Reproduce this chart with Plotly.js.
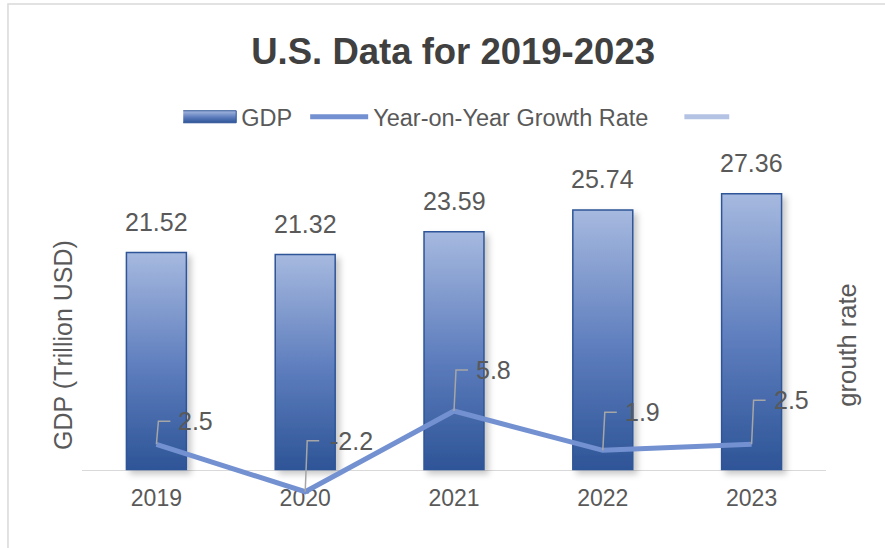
<!DOCTYPE html>
<html><head><meta charset="utf-8">
<script src="https://cdn.plot.ly/plotly-3.0.1.min.js"></script>
<style>html,body{margin:0;padding:0;background:#fff}#chart{width:885px;height:548px}</style>
</head><body><div id="chart"></div>
<script>
// ---- data ----
const years = ['2019', '2020', '2021', '2022', '2023'];
const gdp = [21.52, 21.32, 23.59, 25.74, 27.36];
const growth = [2.5, -2.2, 5.8, 1.9, 2.5];
const gdpLabels = ['21.52', '21.32', '23.59', '25.74', '27.36'];
const growthLabels = ['2.5', '-2.2', '5.8', '1.9', '2.5'];

// ---- styling (callout geometry in px for each growth label) ----
const calloutRise = [23, 51, 41, 38, 44];
const calloutTextShift = [20, 23, 20, 20, 20];
const FONT = '"Liberation Sans", Arial, sans-serif';
const TXT = '#595959';

const traces = [
  {type: 'bar', name: 'GDP', x: years, y: gdp, yaxis: 'y',
   marker: {color: '#5b7bbd', line: {color: '#2f5597', width: 1.5}}},
  {type: 'scatter', mode: 'lines', name: 'Year-on-Year Growth Rate', x: years, y: growth, yaxis: 'y2',
   line: {color: '#7391d1', width: 5}},
  {type: 'scatter', mode: 'lines', name: '', x: years, y: years.map(() => null), yaxis: 'y2',
   line: {color: '#b4c2e4', width: 5}}
];

const annotations = [];
const shapes = [];
years.forEach((yr, i) => {
  // category axis: position by category index
  annotations.push({x: i, y: gdp[i], xref: 'x', yref: 'y', text: gdpLabels[i], showarrow: false,
    yshift: 31, yanchor: 'middle', xanchor: 'center', font: {size: 25, color: TXT}});
  annotations.push({x: i, y: growth[i], xref: 'x', yref: 'y2', text: growthLabels[i], showarrow: false,
    xshift: calloutTextShift[i], yshift: calloutRise[i], xanchor: 'left', yanchor: 'middle', font: {size: 25, color: TXT}});
  shapes.push({type: 'path', xref: 'x', yref: 'y2', xsizemode: 'pixel', ysizemode: 'pixel',
    xanchor: i, yanchor: growth[i], path: `M0,0 L2,${calloutRise[i]} L14,${calloutRise[i]}`,
    line: {color: '#a6a6a6', width: 1.5}, layer: 'above'});
});
// chart frame (left & top edges visible)
shapes.push({type: 'rect', xref: 'paper', yref: 'paper', x0: -0.0995, x1: 1.2, y0: -0.3, y1: 1.5656,
  line: {color: '#d9d9d9', width: 1.5}, fillcolor: 'rgba(0,0,0,0)', layer: 'below'});

const layout = {
  width: 885, height: 548,
  margin: {l: 82, r: 59, t: 185, b: 43, pad: 0},
  paper_bgcolor: '#ffffff', plot_bgcolor: 'rgba(0,0,0,0)',
  font: {family: FONT, color: TXT, size: 22},
  title: {text: 'U.S. Data for 2019-2023', font: {family: FONT, size: 36.5, color: '#404040', weight: 'bold'},
    x: 0.512, xanchor: 'center', y: 0.907, yanchor: 'middle', xref: 'container', yref: 'container'},
  bargap: 0.597,
  showlegend: true,
  legend: {orientation: 'h', x: 0.503, xanchor: 'center', y: 1.2125, yanchor: 'middle',
    font: {size: 23.5, color: TXT}, itemwidth: 58, bgcolor: 'rgba(0,0,0,0)'},
  xaxis: {type: 'category', range: [-0.5, 4.5], autorange: false, anchor: 'free', position: 0.1109,
    showline: true, linecolor: '#d9d9d9', linewidth: 1.5,
    ticks: '', tickfont: {size: 23, color: TXT}, showgrid: false, zeroline: false, layer: 'below traces',
    ticklabelstandoff: 7},
  yaxis: {range: [-3.52, 28.22], autorange: false, showticklabels: false, showgrid: false, zeroline: false, showline: false,
    title: {text: 'GDP (Trillion USD)', font: {size: 25, color: TXT}, standoff: 1}},
  yaxis2: {overlaying: 'y', side: 'right', range: [-3.52, 28.22], autorange: false, showticklabels: false, showgrid: false,
    zeroline: false, showline: false, title: {text: 'grouth rate', font: {size: 25.5, color: TXT}, standoff: 12}},
  annotations: annotations,
  shapes: shapes
};

// horizontal nudges (px) applied to the three legend entries
const legendNudge = [-10, -2, 24];

function decorate(gd) {
  const ns = 'http://www.w3.org/2000/svg';
  const svg = gd.querySelector('svg.main-svg');
  let defs = svg.querySelector('defs');
  if (!defs) { defs = document.createElementNS(ns, 'defs'); svg.insertBefore(defs, svg.firstChild); }
  if (!document.getElementById('gdpGrad')) {
    const grad = document.createElementNS(ns, 'linearGradient');
    grad.setAttribute('id', 'gdpGrad');
    grad.setAttribute('x1', '0'); grad.setAttribute('y1', '0'); grad.setAttribute('x2', '0'); grad.setAttribute('y2', '1');
    [['0', '#a6b9df'], ['0.55', '#5b7bbc'], ['1', '#2e5597']].forEach(([o, c]) => {
      const s = document.createElementNS(ns, 'stop');
      s.setAttribute('offset', o); s.setAttribute('stop-color', c); grad.appendChild(s);
    });
    defs.appendChild(grad);
    const filt = document.createElementNS(ns, 'filter');
    filt.setAttribute('id', 'gdpShadow');
    filt.setAttribute('x', '-20%'); filt.setAttribute('y', '-20%'); filt.setAttribute('width', '150%'); filt.setAttribute('height', '150%');
    const ds = document.createElementNS(ns, 'feDropShadow');
    ds.setAttribute('dx', '4'); ds.setAttribute('dy', '4'); ds.setAttribute('stdDeviation', '3');
    ds.setAttribute('flood-color', '#000'); ds.setAttribute('flood-opacity', '0.22');
    filt.appendChild(ds);
    defs.appendChild(filt);
  }
  gd.querySelectorAll('.barlayer .point path').forEach(p => { p.style.fill = 'url(#gdpGrad)'; });
  const bl = gd.querySelector('.barlayer');
  if (bl) bl.setAttribute('filter', 'url(#gdpShadow)');
  const items = gd.querySelectorAll('.legend .traces');
  if (items.length) {
    items[0].querySelectorAll('.legendpoints path').forEach(p => {
      p.setAttribute('d', 'M29,6H-29V-6H29Z');
      p.style.fill = 'url(#gdpGrad)';
      p.style.stroke = '#2f5597';
      p.style.strokeWidth = '1px';
    });
    items.forEach((it, k) => {
      if (it.dataset.nudged) return;
      const tr = it.getAttribute('transform') || '';
      const m = tr.match(/translate\(\s*([-\d.]+)[ ,]+([-\d.]+)\s*\)/);
      if (m) {
        it.setAttribute('transform', `translate(${parseFloat(m[1]) + (legendNudge[k] || 0)},${m[2]})`);
        it.dataset.nudged = '1';
      }
    });
  }
}

Plotly.newPlot('chart', traces, layout, {staticPlot: true, displayModeBar: false}).then(gd => {
  decorate(gd);
  setTimeout(() => decorate(gd), 50);
});
</script>
</body></html>
